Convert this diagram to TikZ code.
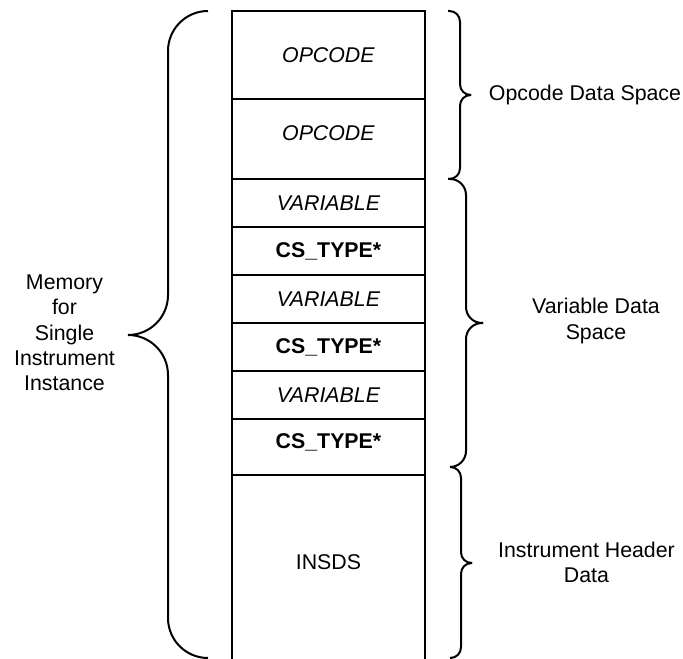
\documentclass[tikz,border=0pt]{standalone}
\usepackage{fontspec}
\setmainfont{Liberation Sans}
\usetikzlibrary{positioning}

\begin{document}
\begin{tikzpicture}[x=0.75pt, y=-0.75pt,
        font=\fontsize{16pt}{19pt}\selectfont]
        % Define styles
        \tikzstyle{cell} = [rectangle, draw, line width=1.5pt, outer sep=0pt,
            minimum width=144.75pt, inner sep=0pt]
        \tikzstyle{raised} = [text depth=8.5pt]
        \tikzstyle{brace} = [line width=1.5pt, line join=round]
        \tikzstyle{lbl} = [align=center, inner sep=0pt]

        \useasboundingbox (0,0) rectangle (683,659);

        % Memory rows
        \node [cell, minimum height=66pt, anchor=north] (op1) at (328.5,11) {\textit{OPCODE}};
        \node [cell, raised, minimum height=60pt, below=0pt of op1] (op2) {\textit{OPCODE}};
        \node [cell, minimum height=36pt, below=0pt of op2] (var1) {\textit{VARIABLE}};
        \node [cell, minimum height=36pt, below=0pt of var1] (cs1) {\textbf{CS\_TYPE*}};
        \node [cell, minimum height=36pt, below=0pt of cs1] (var2) {\textit{VARIABLE}};
        \node [cell, minimum height=36pt, below=0pt of var2] (cs2) {\textbf{CS\_TYPE*}};
        \node [cell, minimum height=36pt, below=0pt of cs2] (var3) {\textit{VARIABLE}};
        \node [cell, raised, minimum height=42pt, below=0pt of var3] (cs3) {\textbf{CS\_TYPE*}};
        \node [cell, raised, minimum height=139.5pt, below=0pt of cs3] (insds) {INSDS};

        % Braces
        \draw [brace, rounded corners=30pt] (208,11) -- (168,11) -- (168,335) -- (128,335);
        \draw [brace, rounded corners=30pt] (128,335) -- (168,335) -- (168,658) -- (208,658);
        \draw [brace, rounded corners=8pt] (448,11) -- (460,11) -- (460,95) -- (471,95);
        \draw [brace, rounded corners=8pt] (471,95) -- (460,95) -- (460,179) -- (448,179);
        \draw [brace, rounded corners=12pt] (448,179) -- (466,179) -- (466,323) -- (483,323);
        \draw [brace, rounded corners=12pt] (483,323) -- (466,323) -- (466,467) -- (450,467);
        \draw [brace, rounded corners=8pt] (450,467) -- (461,467) -- (461,563) -- (472,563);
        \draw [brace, rounded corners=8pt] (472,563) -- (461,563) -- (461,658) -- (450,658);

        % Labels
        \node [lbl] (memory) at (64.5,333) {Memory\\for\\Single\\Instrument\\Instance};
        \node [lbl] (opspace) at (585,95) {Opcode Data Space};
        \node [lbl] (varspace) at (596,321) {Variable Data\\Space};
        \node [lbl] (header) at (586.5,562.5) {Instrument Header\\Data};
    \end{tikzpicture}
\end{document}
